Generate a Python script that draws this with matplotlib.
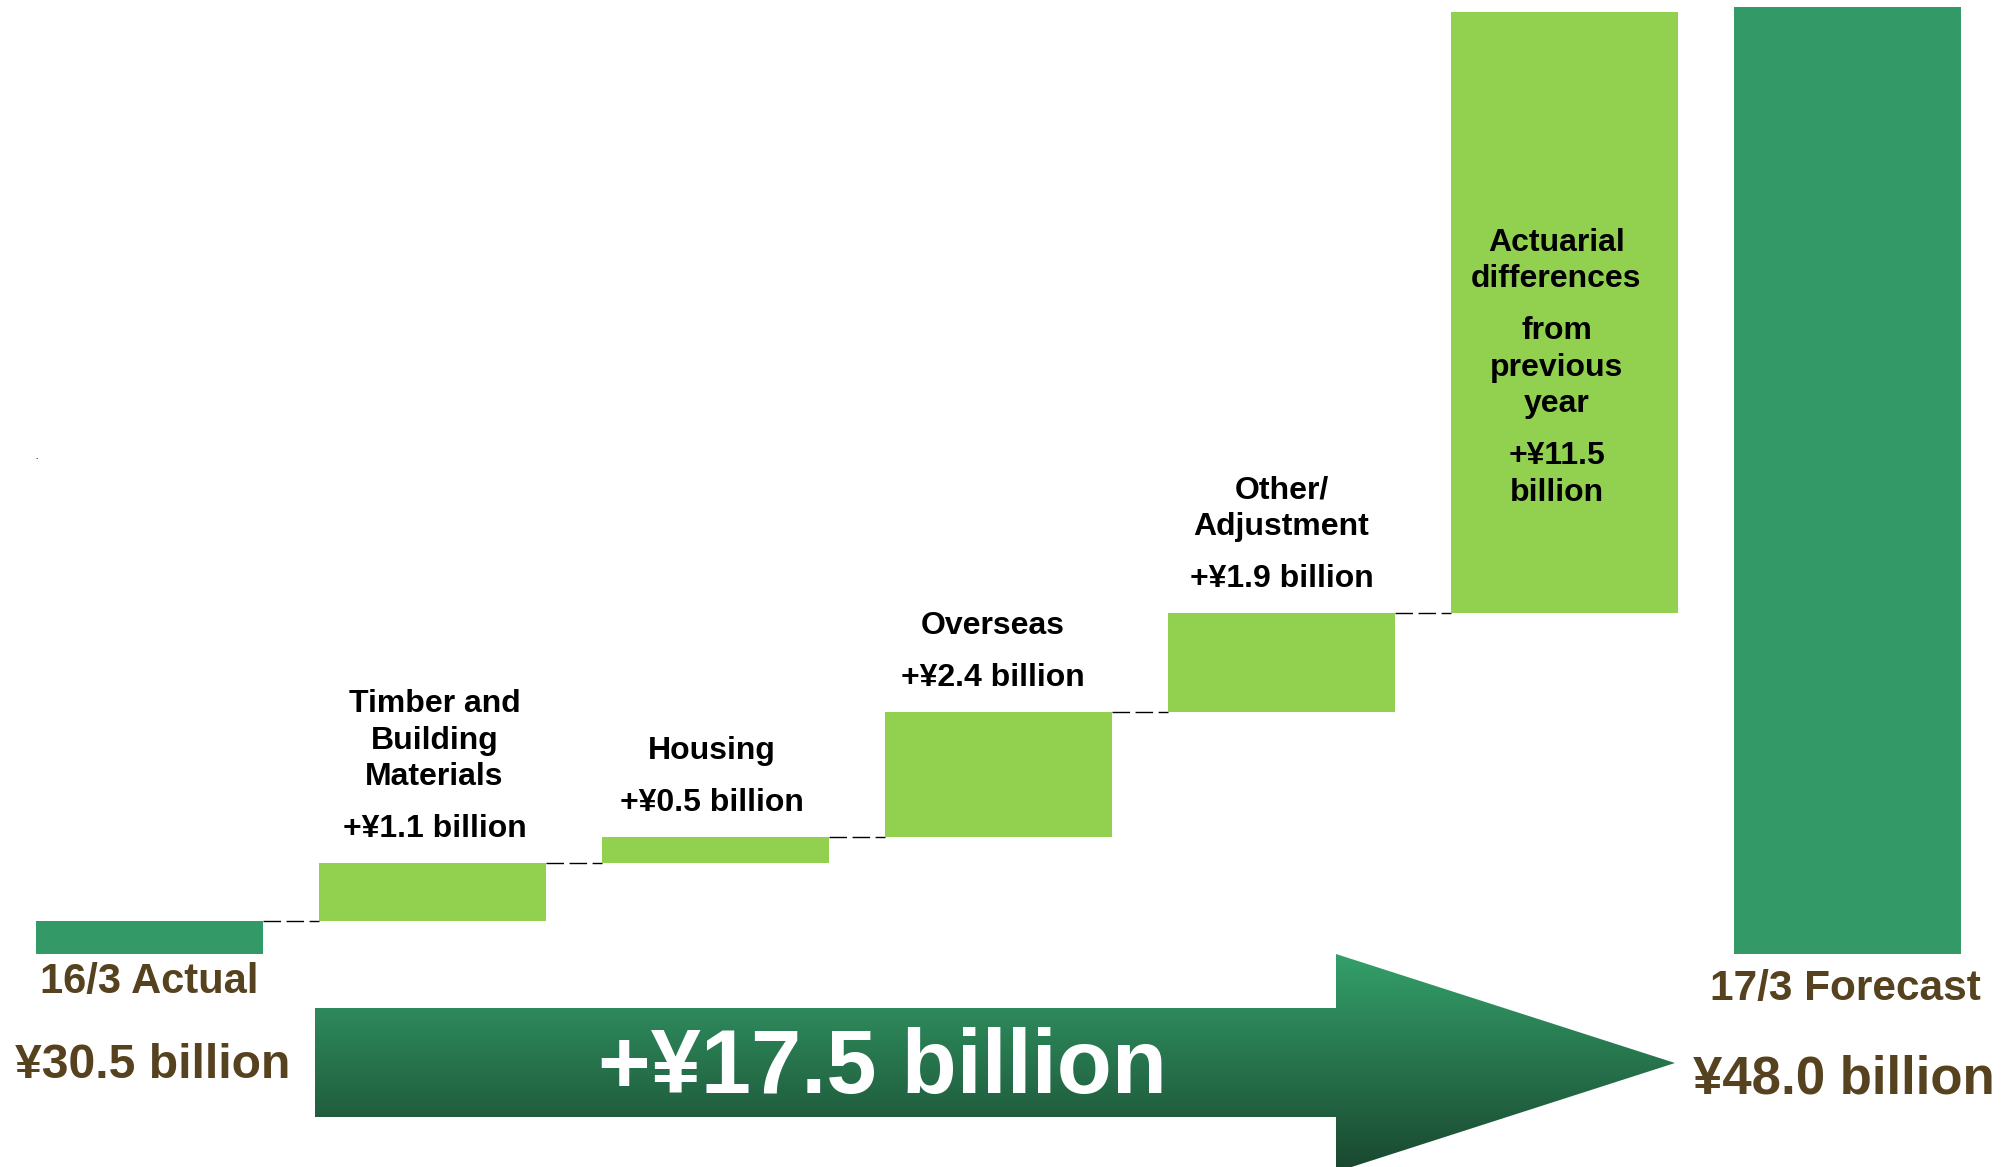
import numpy as np
import matplotlib
matplotlib.use("Agg")
import matplotlib.pyplot as plt
from matplotlib.patches import Polygon
from matplotlib.colors import to_rgb

plt.rcParams["font.family"] = ["Liberation Sans", "DejaVu Sans"]
plt.rcParams["font.weight"] = "bold"

# ---- data (¥ billion) ----
start_label = "16/3 Actual"
end_label = "17/3 Forecast"
start_value = 30.5
end_value = 48.0
step_names = [
    [["Timber and", "Building", "Materials"]],
    [["Housing"]],
    [["Overseas"]],
    [["Other/", "Adjustment"]],
    [["Actuarial", "differences"], ["from", "previous", "year"]],
]
step_deltas = [1.1, 0.5, 2.4, 1.9, 11.5]
total_change = 17.5

# ---- style ----
DARK_GREEN = "#339966"
LIGHT_GREEN = "#92D050"
BROWN = "#56421F"
AXIS_FLOOR = 29.86         # value axis is cut here
PX_PER_UNIT = 52.2
BAR_WIDTH = 0.8
LABEL_SIZE = 23
LINE_PX = 36.5             # baseline-to-baseline within a block
BLOCK_PX = 52              # baseline gap between blocks
label_dx = [2, -4, -6, 0, -8]   # small horizontal nudges of the step labels (px)

fig = plt.figure(figsize=(20.15, 11.67), dpi=100)
ax = fig.add_axes([0, 0, 1, 1])
ax.set_axis_off()

n_steps = len(step_deltas)
x_pos = np.arange(n_steps + 2)

# cumulative levels for the floating bars
levels = start_value + np.concatenate([[0], np.cumsum(step_deltas)])
step_bottoms = levels[:-1]
step_tops = levels[1:]

# end bars
ax.bar(x_pos[0], start_value - AXIS_FLOOR, bottom=AXIS_FLOOR, width=BAR_WIDTH,
       color=DARK_GREEN, zorder=2)
ax.bar(x_pos[-1], end_value - AXIS_FLOOR, bottom=AXIS_FLOOR, width=BAR_WIDTH,
       color=DARK_GREEN, zorder=2)
# step bars
ax.bar(x_pos[1:-1], step_deltas, bottom=step_bottoms, width=BAR_WIDTH,
       color=LIGHT_GREEN, zorder=2)

# dashed connectors between consecutive bars
for i in range(n_steps):
    y = levels[i]
    ax.plot([x_pos[i] + BAR_WIDTH / 2, x_pos[i + 1] - BAR_WIDTH / 2], [y, y],
            color="black", lw=1.0, linestyle=(0, (12.6, 4)), zorder=1)


def stacked_text(x, y, blocks, base_px, dx=0, color="black", size=LABEL_SIZE):
    """Write blocks of lines upward from a baseline offset above (x, y)."""
    off = base_px
    for b, block in enumerate(reversed(blocks)):
        if b > 0:
            off += BLOCK_PX - LINE_PX
        for line in reversed(block):
            ax.annotate(line, (x, y), xytext=(dx, off), textcoords="offset pixels",
                        ha="center", va="baseline", fontsize=size,
                        fontweight="bold", color=color, zorder=4)
            off += LINE_PX


def fmt_delta(v):
    return f"+¥{v:.1f} billion"


for i, (names, d) in enumerate(zip(step_names, step_deltas)):
    x = x_pos[i + 1]
    if i == n_steps - 1:
        # tall bar: label sits inside the bar
        val_lines = [f"+¥{d:.1f}", "billion"]
        stacked_text(x, step_bottoms[i], names + [val_lines], 112, dx=label_dx[i])
    else:
        stacked_text(x, step_tops[i], names + [[fmt_delta(d)]], 26, dx=label_dx[i])

# labels under the end bars
ax.annotate(start_label, (x_pos[0], AXIS_FLOOR), xytext=(0, -39),
            textcoords="offset pixels", ha="center", va="baseline",
            fontsize=30, color=BROWN, fontweight="bold")
ax.annotate(f"¥{start_value:.1f} billion", (x_pos[0], AXIS_FLOOR), xytext=(3, -124),
            textcoords="offset pixels", ha="center", va="baseline",
            fontsize=34.7, color=BROWN, fontweight="bold")
ax.annotate(end_label, (x_pos[-1], AXIS_FLOOR), xytext=(-2, -46),
            textcoords="offset pixels", ha="center", va="baseline",
            fontsize=30.5, color=BROWN, fontweight="bold")
ax.annotate(f"¥{end_value:.1f} billion", (x_pos[-1], AXIS_FLOOR), xytext=(-4, -139),
            textcoords="offset pixels", ha="center", va="baseline",
            fontsize=38, color=BROWN, fontweight="bold")

# big gradient arrow for the total change
W, H = 2015.0, 1167.0
def fx(px):
    return px / W
def fy(py):
    return 1 - py / H

shaft_l, head_x, tip_x = fx(315), fx(1336), fx(1675)
shaft_t, shaft_b = fy(1008), fy(1117)
head_t, head_b, tip_y = fy(954), fy(1172), fy(1063)
arrow_verts = [
    (shaft_l, shaft_t), (head_x, shaft_t), (head_x, head_t), (tip_x, tip_y),
    (head_x, head_b), (head_x, shaft_b), (shaft_l, shaft_b),
]
arrow = Polygon(arrow_verts, closed=True, transform=ax.transAxes,
                facecolor="none", edgecolor="none", zorder=3)
ax.add_patch(arrow)

top_c = np.array(to_rgb("#34A06A"))
bot_c = np.array(to_rgb("#19472F"))
t = np.linspace(0, 1, 256)[:, None, None]
grad = top_c[None, None, :] * (1 - t) + bot_c[None, None, :] * t
im = ax.imshow(grad, extent=(shaft_l, tip_x, head_b, head_t), transform=ax.transAxes,
               aspect="auto", interpolation="bilinear", zorder=3)
im.set_clip_path(arrow)

ax.text(fx(883), fy(1093), f"+¥{total_change:.1f} billion", transform=ax.transAxes,
        ha="center", va="baseline", fontsize=65, fontweight="bold",
        color="white", zorder=5)

# stray period on the slide
ax.text(fx(37), fy(459), ".", transform=ax.transAxes, ha="center", va="baseline",
        fontsize=6, color="black")

ax.set_xlim(-149.5 / 283, (2015 - 149.5) / 283)
ax.set_ylim(AXIS_FLOOR - 213 / PX_PER_UNIT, AXIS_FLOOR + 954 / PX_PER_UNIT)

fig.savefig("out.png", dpi=100, facecolor="white")
